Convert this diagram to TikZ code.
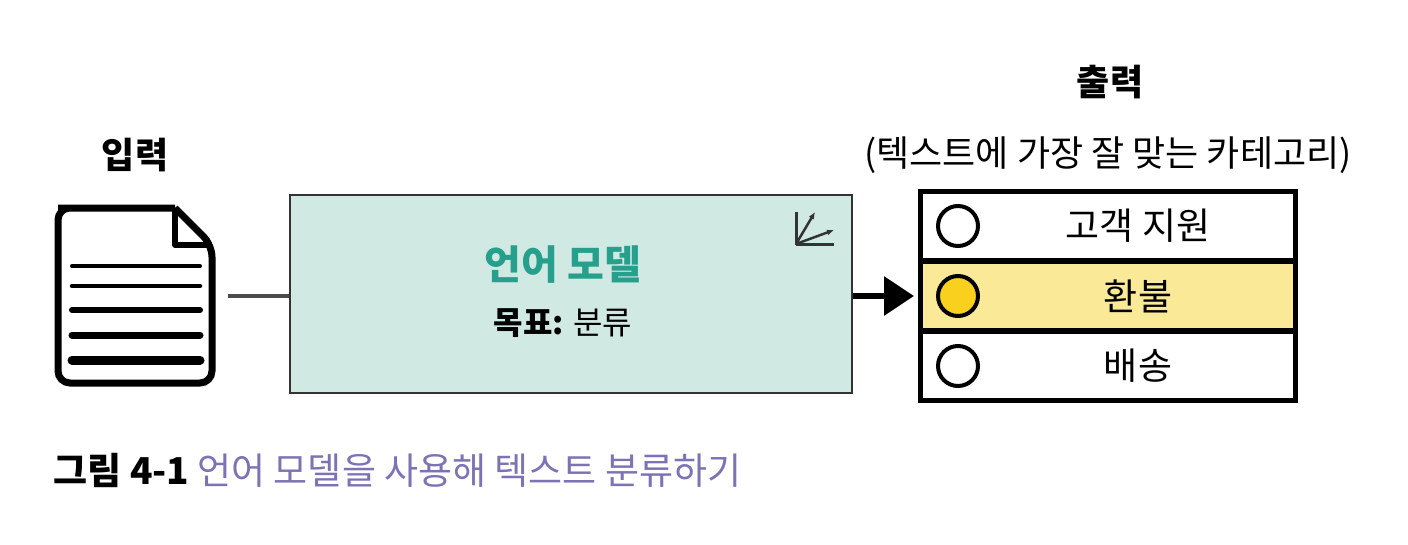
\documentclass[tikz,border=0pt]{standalone}
\usepackage{fontspec}
\setmainfont{Noto Sans CJK KR}
\usetikzlibrary{positioning,arrows.meta}
\definecolor{modelfill}{RGB}{208,233,227}
\definecolor{modeltext}{RGB}{38,160,140}
\definecolor{pickfill}{RGB}{250,234,152}
\definecolor{pickdot}{RGB}{250,208,30}
\definecolor{captext}{RGB}{125,115,180}
\tikzset{
  title/.style={font=\fontsize{36}{40}\selectfont\bfseries},
  row/.style={draw=black,line width=3pt,minimum width=373pt,minimum height=67pt,inner sep=0pt},
  rowtext/.style={font=\fontsize{37}{40}\selectfont},
  pick/.style={circle,draw=black,line width=4pt,minimum size=40pt,inner sep=0pt},
}
\begin{document}
\begin{tikzpicture}[x=1pt,y=-1pt]
\useasboundingbox (0,0) rectangle (1408,544);

% input document
\node[title] (inlabel) at (135,155) {입력};
\draw[line width=7pt,rounded corners=12pt,fill=white]
  (175,208) -- (70,208) -- (58,208) -- (58,383) -- (212,383) -- (212,245) -- (175,208);
\draw[line width=6pt,line join=round] (175,208) -- (175,245) -- (212,245);
\foreach \yy/\ww in {266/4,286/4.5,310/6,335/7,360/9}
  \draw[line width=\ww pt,line cap=round] (72,\yy) -- (200,\yy);
\coordinate (docout) at (228,296);

% model
\node[draw=black!80,line width=2.5pt,fill=modelfill,minimum width=562pt,minimum height=198pt,inner sep=0pt]
  (model) at (571,294) {};
\node[font=\fontsize{40}{44}\selectfont\bfseries,text=modeltext] (mname) at (563,265) {언어 모델};
\node[font=\fontsize{32}{36}\selectfont] (mgoal) at (563,323) {\textbf{목표:} 분류};
\draw[line width=3pt,black!80,line join=round] (796,212) -- (796,244) -- (834,244);
\draw[line width=2.5pt,black!80,-{Latex[length=7pt,width=6pt]}] (796,244) -- (815,212);
\draw[line width=2.5pt,black!80,-{Latex[length=7pt,width=6pt]}] (796,244) -- (834,230);
\draw[line width=4pt,black!70] (docout) -- (model.west |- docout);

% output
\node[title] (outlabel) at (1110,82) {출력};
\node[font=\fontsize{36}{40}\selectfont] (outnote) at (1108,155) {(텍스트에 가장 잘 맞는 카테고리)};
\node[row,fill=white] (r1) at (1108,226) {};
\node[row,fill=pickfill,below=0pt of r1] (r2) {};
\node[row,fill=white,below=0pt of r2] (r3) {};
\draw[line width=4pt] (r1.north west) rectangle (r3.south east);
\foreach \r/\t in {r1/고객 지원,r2/환불,r3/배송}
  \node[rowtext] at ([xshift=30pt]\r.center) {\t};
\node[pick,fill=white] (c1) at ([xshift=38pt]r1.west) {};
\node[pick,fill=pickdot] (c2) at ([xshift=38pt]r2.west) {};
\node[pick,fill=white] (c3) at ([xshift=38pt]r3.west) {};
\draw[line width=6pt,-{Triangle[length=30pt,width=38pt]}] (model.east |- r2) -- ([xshift=-6pt]r2.west);

% caption
\node[anchor=west,font=\fontsize{37}{40}\selectfont] (cap) at (50,470)
  {\textbf{그림 4-1} \textcolor{captext}{언어 모델을 사용해 텍스트 분류하기}};
\end{tikzpicture}
\end{document}
